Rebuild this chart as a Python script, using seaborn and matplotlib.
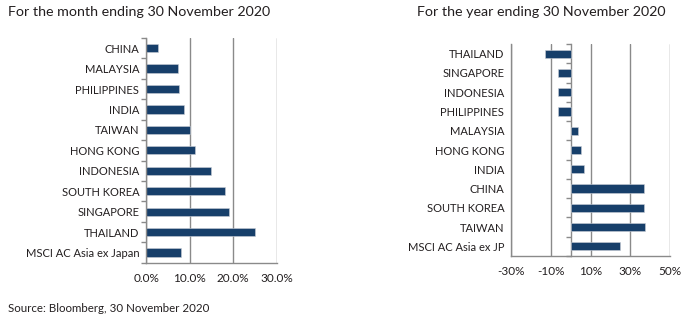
import numpy as np
import pandas as pd
import matplotlib
matplotlib.use("Agg")
import matplotlib.pyplot as plt
import seaborn as sns

month_labels = ["CHINA", "MALAYSIA", "PHILIPPINES", "INDIA", "TAIWAN", "HONG KONG",
                "INDONESIA", "SOUTH KOREA", "SINGAPORE", "THAILAND", "MSCI AC Asia ex Japan"]
month_values = [2.8, 7.4, 7.6, 8.6, 10.0, 11.2, 14.8, 18.0, 19.0, 24.9, 8.1]

year_labels = ["THAILAND", "SINGAPORE", "INDONESIA", "PHILIPPINES", "MALAYSIA", "HONG KONG",
               "INDIA", "CHINA", "SOUTH KOREA", "TAIWAN", "MSCI AC Asia ex JP"]
year_values = [-13.0, -6.6, -6.5, -6.5, 3.7, 5.0, 6.8, 36.7, 36.7, 37.2, 25.0]

month_ticks = [0, 10, 20, 30]
month_ticklabels = ["0.0%", "10.0%", "20.0%", "30.0%"]
year_ticks = [-30, -10, 10, 30, 50]
year_ticklabels = ["-30%", "-10%", "10%", "30%", "50%"]

sns.set_theme(style="white")
plt.rcParams['font.family'] = ['Lato', 'DejaVu Sans']

BAR = "#173f6a"
GRID = "#8a8a8a"
TXT = "#231f20"

fig = plt.figure(figsize=(6.9, 3.24), dpi=100)

ax1 = fig.add_axes([0.212, 0.189, 0.189, 0.694])
ax2 = fig.add_axes([0.741, 0.210, 0.230, 0.654])

df1 = pd.DataFrame({"label": month_labels, "value": month_values})
df2 = pd.DataFrame({"label": year_labels, "value": year_values})

sns.barplot(data=df1, x="value", y="label", ax=ax1, color=BAR, width=0.4,
            saturation=1, edgecolor="#c9ced6", linewidth=0.4)
sns.barplot(data=df2, x="value", y="label", ax=ax2, color=BAR, width=0.42,
            saturation=1, edgecolor="#c9ced6", linewidth=0.4)

def style(ax, ticks, ticklabels, lim, n):
    ax.set_xlim(*lim)
    ax.set_ylim(n - 0.5, -0.5)
    ax.set_xticks(ticks)
    ax.set_xticklabels(ticklabels, fontsize=8.5, color=TXT)
    ax.set_xlabel("")
    ax.set_ylabel("")
    ax.tick_params(axis="y", length=0, labelsize=8, labelcolor=TXT, pad=5)
    ax.tick_params(axis="x", length=3.5, width=1, color=GRID, direction="out", pad=4)
    for t in ticks:
        ax.axvline(t, color=GRID, lw=1, zorder=0)
    for s in ["top", "right"]:
        ax.spines[s].set_visible(False)
    ax.spines["bottom"].set_color(GRID)
    ax.spines["bottom"].set_linewidth(1)
    ax.spines["left"].set_color(GRID)
    ax.spines["left"].set_linewidth(1)
    ax.grid(False)

style(ax1, month_ticks, month_ticklabels, (0, 30), len(month_labels))
style(ax2, year_ticks, year_ticklabels, (-30, 50), len(year_labels))

bounds1 = np.arange(len(month_labels) + 1) - 0.5
ax1.set_yticks(bounds1, minor=True)
ax1.tick_params(axis="y", which="minor", length=3.5, width=1, color=GRID, left=True)

# secondary y axis at zero for the year chart
zero_pos = (0 - (-30)) / 80
sec = ax2.secondary_yaxis(zero_pos)
bounds2 = np.arange(len(year_labels) + 1) - 0.5
sec.set_yticks(bounds2)
sec.set_yticklabels([])
sec.tick_params(axis="y", length=3.5, width=1, color=GRID, direction="out")
sec.spines["left"].set_color(GRID)
sec.spines["left"].set_linewidth(1)

fig.text(0.012, 0.962, "For the month ending 30 November 2020", fontsize=10.3,
         color=TXT, va="center", ha="left")
fig.text(0.605, 0.962, "For the year ending 30 November 2020", fontsize=10.3,
         color=TXT, va="center", ha="left")
fig.text(0.012, 0.047, "Source: Bloomberg, 30 November 2020", fontsize=8.3,
         color=TXT, va="center", ha="left")

fig.savefig("out.png", dpi=100)
